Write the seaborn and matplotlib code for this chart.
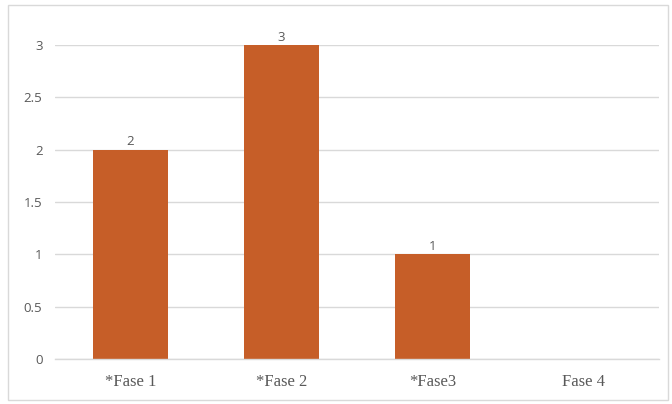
import matplotlib
matplotlib.use("Agg")
import matplotlib.pyplot as plt
from matplotlib.patches import Rectangle
import seaborn as sns
import pandas as pd

categories = ["*Fase 1", "*Fase 2", "*Fase3", "Fase 4"]
values = [2, 3, 1, 0]
value_labels = ["2", "3", "1", ""]
y_ticks = [0, 0.5, 1, 1.5, 2, 2.5, 3]
y_tick_labels = ["0", "0.5", "1", "1.5", "2", "2.5", "3"]

bar_color = "#C65E28"
text_color = "#595959"
grid_color = "#D9D9D9"

sns.set_theme(style="white")
plt.rcParams["font.family"] = ["Open Sans", "DejaVu Sans"]

df = pd.DataFrame({"fase": categories, "valor": values})

fig = plt.figure(figsize=(6.72, 4.04), dpi=100)
ax = fig.add_axes([55 / 672, 45 / 404, 604 / 672, 314 / 404])

sns.barplot(data=df, x="fase", y="valor", color=bar_color, saturation=1,
            width=0.5, linewidth=0, ax=ax, zorder=3)

ax.set_xlim(-0.5, len(categories) - 0.5)
ax.set_ylim(0, 3)
ax.set_yticks(y_ticks)
ax.set_yticklabels(y_tick_labels)
ax.set_xlabel("")
ax.set_ylabel("")

ax.yaxis.grid(True, color=grid_color, linewidth=1.0, zorder=0)
ax.set_axisbelow(True)
for side in ["top", "right", "left"]:
    ax.spines[side].set_visible(False)
ax.spines["bottom"].set_color(grid_color)
ax.spines["bottom"].set_linewidth(1.0)
ax.spines["bottom"].set_zorder(4)

ax.tick_params(axis="y", length=0, pad=9, labelsize=9.5, labelcolor=text_color)
ax.tick_params(axis="x", length=0, pad=11, labelsize=12, labelcolor=text_color)
for lbl in ax.get_xticklabels():
    lbl.set_family(["Liberation Serif", "DejaVu Serif"])

for container in ax.containers:
    ax.bar_label(container, labels=value_labels, padding=1, fontsize=9.5,
                 color=text_color, clip_on=False)

# thin frame around the whole chart
fig.patches.append(Rectangle((8 / 672, 4 / 404), 660 / 672, 395 / 404,
                             transform=fig.transFigure, fill=False,
                             edgecolor="#D9D9D9", linewidth=1.0))

fig.savefig("out.png", dpi=100)
